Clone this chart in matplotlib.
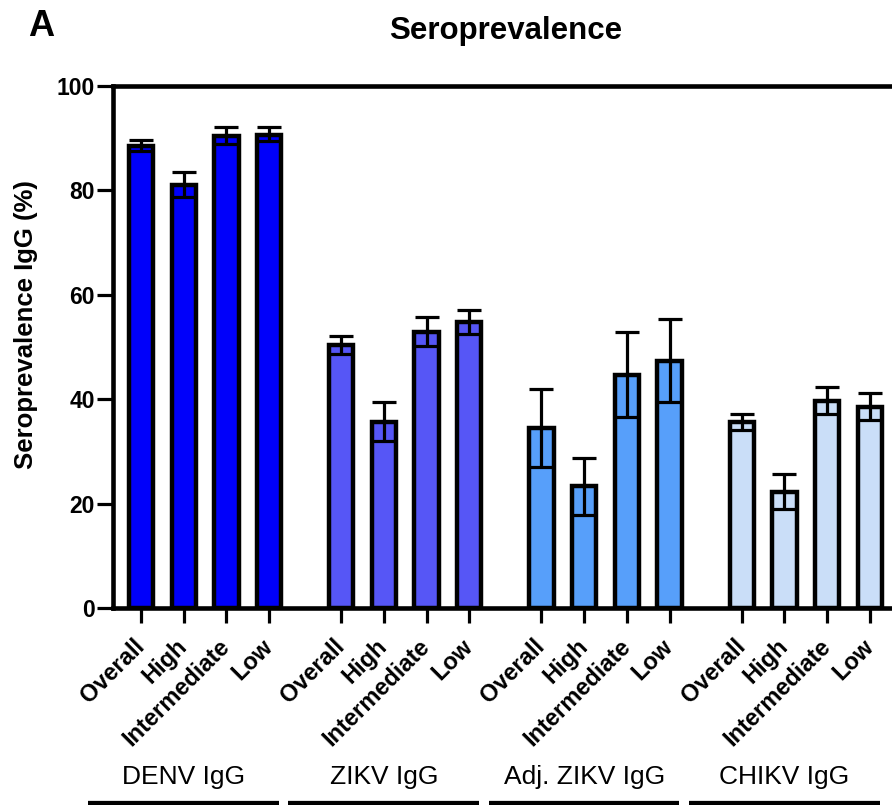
import matplotlib
matplotlib.use("Agg")
import matplotlib.pyplot as plt
import numpy as np
from matplotlib.transforms import blended_transform_factory

plt.rcParams['font.family'] = ['Liberation Sans', 'DejaVu Sans']

groups = ["DENV IgG", "ZIKV IgG", "Adj. ZIKV IgG", "CHIKV IgG"]
subgroups = ["Overall", "High", "Intermediate", "Low"]
colors = ["#0000fa", "#5656f6", "#579ffa", "#cadef8"]

values = [
    [88.6, 81.1, 90.4, 90.7],
    [50.3, 35.6, 52.9, 54.8],
    [34.5, 23.3, 44.7, 47.3],
    [35.6, 22.2, 39.7, 38.5],
]
err_low = [
    [1.0, 2.3, 1.5, 1.3],
    [1.6, 3.7, 2.7, 2.3],
    [7.4, 5.4, 8.1, 7.9],
    [1.5, 3.3, 2.6, 2.5],
]
err_high = [
    [1.1, 2.4, 1.7, 1.5],
    [1.8, 3.9, 2.9, 2.3],
    [7.5, 5.5, 8.2, 8.1],
    [1.6, 3.4, 2.7, 2.6],
]

fig = plt.figure(figsize=(8.92, 8.05), dpi=100)
ax = fig.add_axes([113/892, 1-608/805, 1-113/892 + 0.01, (608-86)/805])

gstep = 4.69
xs_all, labels_all = [], []
for g in range(len(groups)):
    xs = np.arange(4) + g*gstep
    ax.bar(xs, values[g], width=0.57, color=colors[g], edgecolor='black',
           linewidth=3.2, zorder=2)
    ax.errorbar(xs, values[g], yerr=[err_low[g], err_high[g]], fmt='none',
                ecolor='black', elinewidth=2.3, capsize=8.5, capthick=2.3, zorder=3)
    xs_all.extend(xs)
    labels_all.extend(subgroups)

ax.set_xlim(-0.656, 17.80)
ax.set_ylim(0, 100)
ax.set_yticks([0, 20, 40, 60, 80, 100])
ax.set_yticklabels(["0", "20", "40", "60", "80", "100"], fontsize=16.5, fontweight='bold')
ax.set_xticks(xs_all)
ax.set_xticklabels(labels_all, rotation=45, ha='right', va='center',
                   rotation_mode='anchor', fontsize=17, fontweight='bold')
ax.tick_params(axis='x', length=11, width=2.3, pad=14)
ax.tick_params(axis='y', length=11.5, width=2.3, pad=1.5)

for s in ['left', 'top', 'bottom']:
    ax.spines[s].set_linewidth(3.3)
ax.spines['right'].set_visible(False)
ax.spines['top'].set_zorder(4)

trans = blended_transform_factory(ax.transData, ax.transAxes)
for g, name in enumerate(groups):
    base = g*gstep
    ax.text(base + 1.0, -0.3238, name, transform=trans, ha='center', va='center',
            fontsize=19, clip_on=False)
    ax.plot([base - 1.24, base + 3.23], [-0.3755, -0.3755], transform=trans,
            color='black', linewidth=4.5, clip_on=False, solid_capstyle='butt')

fig.text(26/892, 1-325/805, "Seroprevalence IgG (%)", rotation=90, ha='center',
         va='center', fontsize=18.5, fontweight='bold')
fig.text(506/892, 1-31/805, "Seroprevalence", ha='center', va='center',
         fontsize=22.5, fontweight='bold')
fig.text(28/892, 1-27/805, "A", ha='left', va='center', fontsize=26, fontweight='bold')

fig.savefig("out.png", dpi=100)
